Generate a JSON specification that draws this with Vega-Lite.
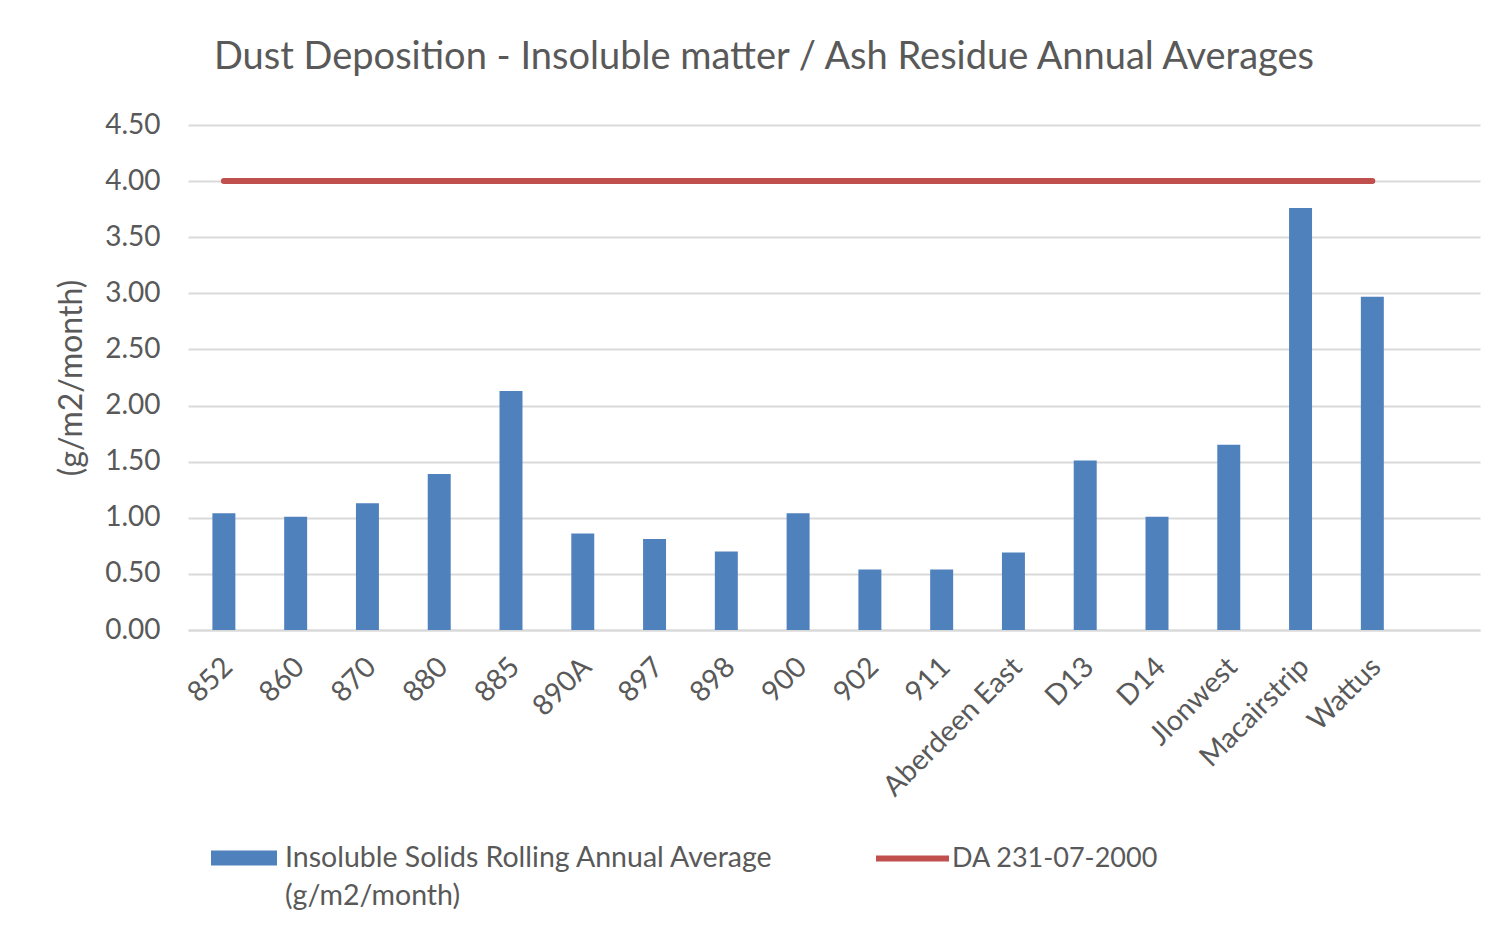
{
  "$schema": "https://vega.github.io/schema/vega-lite/v6.json",
  "width": 1292,
  "height": 505,
  "autosize": {"type": "none"},
  "padding": {"left": 188, "top": 125, "right": 24, "bottom": 309},
  "background": "white",
  "title": {
    "text": "Dust Deposition - Insoluble matter / Ash Residue Annual Averages",
    "font": "Lato",
    "fontSize": 38,
    "fontWeight": "normal",
    "color": "#595959",
    "anchor": "middle",
    "dx": -70,
    "offset": 34
  },
  "data": {
    "values": [
      {"site": "852", "value": 1.04, "limit": 4, "series": "Insoluble Solids Rolling Annual Average (g/m2/month)", "limitSeries": "DA 231-07-2000"},
      {"site": "860", "value": 1.01, "limit": 4, "series": "Insoluble Solids Rolling Annual Average (g/m2/month)", "limitSeries": "DA 231-07-2000"},
      {"site": "870", "value": 1.13, "limit": 4, "series": "Insoluble Solids Rolling Annual Average (g/m2/month)", "limitSeries": "DA 231-07-2000"},
      {"site": "880", "value": 1.39, "limit": 4, "series": "Insoluble Solids Rolling Annual Average (g/m2/month)", "limitSeries": "DA 231-07-2000"},
      {"site": "885", "value": 2.13, "limit": 4, "series": "Insoluble Solids Rolling Annual Average (g/m2/month)", "limitSeries": "DA 231-07-2000"},
      {"site": "890A", "value": 0.86, "limit": 4, "series": "Insoluble Solids Rolling Annual Average (g/m2/month)", "limitSeries": "DA 231-07-2000"},
      {"site": "897", "value": 0.81, "limit": 4, "series": "Insoluble Solids Rolling Annual Average (g/m2/month)", "limitSeries": "DA 231-07-2000"},
      {"site": "898", "value": 0.70, "limit": 4, "series": "Insoluble Solids Rolling Annual Average (g/m2/month)", "limitSeries": "DA 231-07-2000"},
      {"site": "900", "value": 1.04, "limit": 4, "series": "Insoluble Solids Rolling Annual Average (g/m2/month)", "limitSeries": "DA 231-07-2000"},
      {"site": "902", "value": 0.54, "limit": 4, "series": "Insoluble Solids Rolling Annual Average (g/m2/month)", "limitSeries": "DA 231-07-2000"},
      {"site": "911", "value": 0.54, "limit": 4, "series": "Insoluble Solids Rolling Annual Average (g/m2/month)", "limitSeries": "DA 231-07-2000"},
      {"site": "Aberdeen East", "value": 0.69, "limit": 4, "series": "Insoluble Solids Rolling Annual Average (g/m2/month)", "limitSeries": "DA 231-07-2000"},
      {"site": "D13", "value": 1.51, "limit": 4, "series": "Insoluble Solids Rolling Annual Average (g/m2/month)", "limitSeries": "DA 231-07-2000"},
      {"site": "D14", "value": 1.01, "limit": 4, "series": "Insoluble Solids Rolling Annual Average (g/m2/month)", "limitSeries": "DA 231-07-2000"},
      {"site": "Jlonwest", "value": 1.65, "limit": 4, "series": "Insoluble Solids Rolling Annual Average (g/m2/month)", "limitSeries": "DA 231-07-2000"},
      {"site": "Macairstrip", "value": 3.76, "limit": 4, "series": "Insoluble Solids Rolling Annual Average (g/m2/month)", "limitSeries": "DA 231-07-2000"},
      {"site": "Wattus", "value": 2.97, "limit": 4, "series": "Insoluble Solids Rolling Annual Average (g/m2/month)", "limitSeries": "DA 231-07-2000"}
    ]
  },
  "encoding": {
    "x": {
      "field": "site",
      "type": "nominal",
      "sort": null,
      "scale": {
        "domain": ["852", "860", "870", "880", "885", "890A", "897", "898", "900", "902", "911", "Aberdeen East", "D13", "D14", "Jlonwest", "Macairstrip", "Wattus", ""],
        "paddingInner": 0.68,
        "paddingOuter": 0.34
      },
      "axis": {
        "title": null,
        "labelAngle": -45,
        "labelFont": "Lato",
        "labelFontSize": 28.5,
        "labelColor": "#595959",
        "labelPadding": 22,
        "labelOffset": -6,
        "ticks": false,
        "domainColor": "#d9d9d9",
        "domainWidth": 2,
        "labelLimit": 400
      }
    }
  },
  "layer": [
    {
      "mark": {"type": "bar"},
      "encoding": {
        "y": {
          "field": "value",
          "type": "quantitative",
          "scale": {"domain": [0, 4.5]},
          "axis": {
            "title": "(g/m2/month)",
            "titleFont": "Lato",
            "titleFontSize": 32,
            "titleFontWeight": "normal",
            "titleColor": "#595959",
            "titlePadding": 16,
            "values": [0, 0.5, 1, 1.5, 2, 2.5, 3, 3.5, 4, 4.5],
            "format": ".2f",
            "labelFont": "Lato",
            "labelFontSize": 28,
            "labelColor": "#595959",
            "labelPadding": 28,
            "ticks": false,
            "domain": false,
            "gridColor": "#d9d9d9",
            "gridWidth": 2
          }
        },
        "fill": {
          "field": "series",
          "type": "nominal",
          "scale": {"range": ["#4f81bd"]},
          "legend": {
            "title": null,
            "orient": "none",
            "legendX": 23,
            "legendY": 700,
            "symbolType": "M-1,-0.23H1V0.23H-1Z",
            "symbolSize": 4356,
            "symbolStrokeWidth": 0,
            "labelFont": "Lato",
            "labelFontSize": 28.5,
            "labelColor": "#595959",
            "labelLimit": 800,
            "labelOffset": 8,
            "labelExpr": "['Insoluble Solids Rolling Annual Average', '(g/m2/month)']"
          }
        }
      }
    },
    {
      "mark": {"type": "line", "strokeWidth": 6, "strokeCap": "round"},
      "encoding": {
        "y": {"field": "limit", "type": "quantitative"},
        "stroke": {
          "field": "limitSeries",
          "type": "nominal",
          "scale": {"range": ["#c0504d"]},
          "legend": {
            "title": null,
            "orient": "none",
            "legendX": 685,
            "legendY": 694,
            "symbolType": "stroke",
            "symbolSize": 5329,
            "symbolStrokeWidth": 6,
            "labelFont": "Lato",
            "labelFontSize": 27,
            "labelColor": "#595959",
            "labelLimit": 800,
            "labelOffset": 0
          }
        }
      }
    }
  ],
  "config": {
    "view": {"stroke": null},
    "style": {"guide-label": {"lineHeight": 38}}
  }
}
